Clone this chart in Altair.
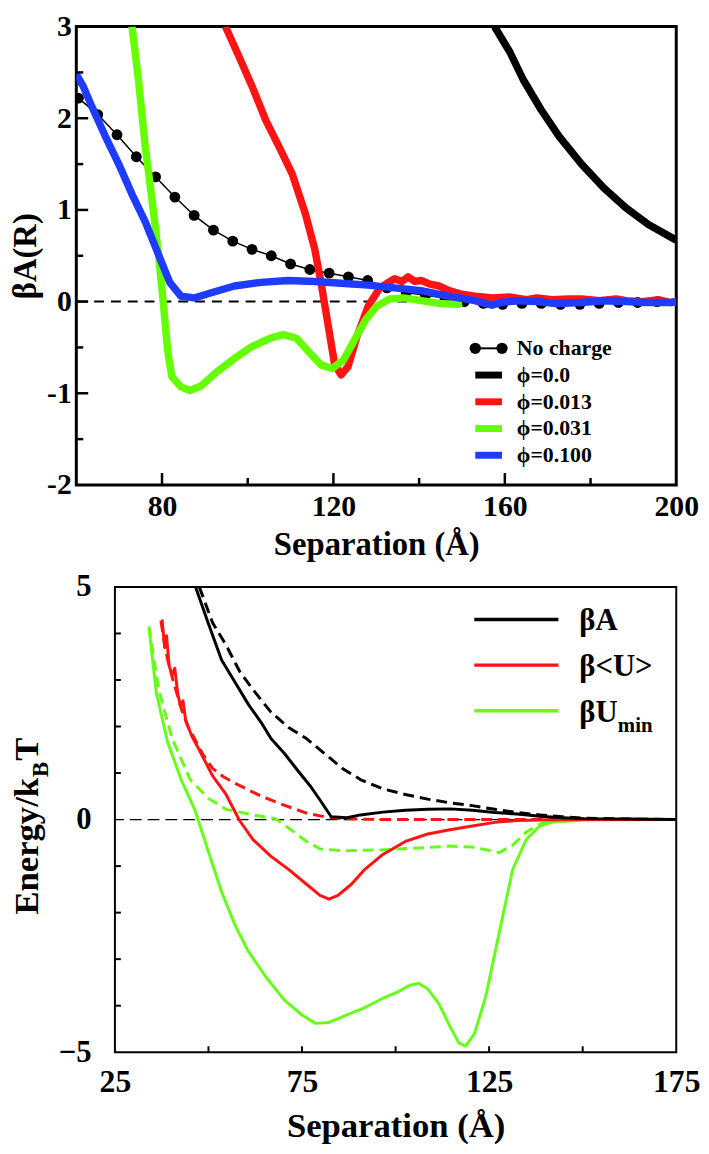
import altair as alt
import pandas as pd

FONT = "Liberation Serif"

# ---------------- top panel data ----------------
NC_X = [60.5, 65, 69.5, 74, 78.5, 83, 87.5, 92, 96.5, 101, 105.5, 110, 114.5, 119, 123.5,
        128, 132.5, 137, 141.5, 146, 150.5, 155, 159.5, 164, 168.5, 173, 177.5, 182,
        186.5, 191, 195.5]
NC_Y = [2.22, 2.04, 1.82, 1.58, 1.36, 1.14, 0.94, 0.78, 0.66, 0.57, 0.50, 0.41, 0.35, 0.31,
        0.27, 0.23, 0.15, 0.10, 0.07, 0.04, 0.00, -0.02, -0.03, -0.02, -0.02, -0.03, -0.03,
        -0.02, -0.01, -0.01, 0.0]

P0_X = [157.6, 161.2, 164.3, 168.5, 172.7, 177.9, 183.1, 188.3, 193.5, 200]
P0_Y = [3.0, 2.72, 2.42, 2.09, 1.80, 1.50, 1.24, 1.02, 0.84, 0.67]

P13_X = [94.8, 97.9, 101.0, 104.2, 107.3, 110.4, 113.5, 115.6, 117.1, 119.2, 120.3,
         121.8, 123.4, 125.5, 128.1, 130.7, 132.5, 134.3, 136.0, 137.4, 139.0, 140.5, 142.5,
         144.7, 147.0, 149.9, 153.0, 157.1, 161, 165, 167.5, 171, 175, 177.9, 182, 186,
         188.3, 192, 196, 198.7, 200]
P13_Y = [3.0, 2.68, 2.35, 1.98, 1.69, 1.39, 0.95, 0.58, 0.21, -0.38, -0.69, -0.80, -0.71,
         -0.38, -0.05, 0.14, 0.20, 0.25, 0.22, 0.27, 0.22, 0.23, 0.19, 0.17, 0.12, 0.08, 0.06,
         0.04, 0.05, 0.02, 0.04, 0.02, 0.03, 0.03, 0.01, 0.03, 0.01, 0.0, 0.02, -0.01, 0.0]

P31_X = [73.0, 74.5, 76.1, 77.7, 79.2, 80.3, 81.3, 82.3, 84.4, 86.5, 89.1, 92.7, 96.9,
         101.0, 105.2, 108.3, 111.4, 114.5, 117.1, 119.7, 122.3, 124.9, 127.5, 130.1, 133.2,
         136.4, 140.5, 144.7, 148.8, 150]
P31_Y = [3.0, 2.42, 1.69, 1.10, 0.51, -0.01, -0.53, -0.82, -0.93, -0.97, -0.92, -0.77,
         -0.62, -0.49, -0.40, -0.36, -0.40, -0.56, -0.69, -0.73, -0.64, -0.42, -0.20, -0.05,
         0.03, 0.04, 0.01, -0.02, -0.03, -0.02]

P100_X = [60.0, 61.6, 63.6, 66.8, 69.9, 73.0, 76.1, 79.2, 81.8, 84.4, 87.5, 91.7, 96.9, 103.1,
          109.4, 115.6, 121.8, 128.1, 134.3, 140.5, 146.8, 153.0, 157, 159.2, 163, 167.5, 172,
          177.9, 183, 188.3, 193, 198.7, 200]
P100_Y = [2.48, 2.35, 2.13, 1.80, 1.50, 1.17, 0.87, 0.51, 0.21, 0.06, 0.04, 0.10, 0.17, 0.21,
          0.23, 0.22, 0.20, 0.18, 0.15, 0.12, 0.06, 0.01, -0.04, -0.01, 0.01, 0.0, -0.02, -0.01,
          0.01, 0.0, -0.01, -0.01, 0.0]

TOP_X_LABELS = [80, 120, 160, 200]
TOP_X_MAJOR_TICKS = [80, 120, 160]
TOP_X_MINOR_TICKS = [100, 140, 180]
TOP_Y_LABELS = [-2, -1, 0, 1, 2, 3]
TOP_Y_MAJOR_TICKS = [-1, 0, 1, 2]
TOP_Y_MINOR_TICKS = [-1.5, -0.5, 0.5, 1.5, 2.5]

TOP_LEGEND = ["No charge", "ϕ=0.0", "ϕ=0.013", "ϕ=0.031", "ϕ=0.100"]
TOP_COLORS = ["black", "black", "#ff1414", "#66ff00", "#1e3cff"]

# ---------------- bottom panel data ----------------
BA_X = [46.55, 49.9, 53.5, 57.1, 60.7, 64.3, 66.7, 70.3, 73.8, 77.4, 79.8, 82.8, 87.0, 90.6,
        96.6, 102.6, 108.6, 114.5, 120.5, 126.5, 132.5, 138.5, 144.5, 150.5, 162.4, 175]
BA_Y = [5.0, 4.23, 3.43, 2.95, 2.47, 2.06, 1.74, 1.42, 1.06, 0.70, 0.42, 0.06, 0.04, 0.10,
        0.16, 0.20, 0.22, 0.23, 0.20, 0.15, 0.12, 0.07, 0.04, 0.02, 0.01, 0.0]

BAD_X = [47.55, 51.1, 54.7, 58.3, 61.9, 66.7, 71.4, 76.2, 81.0, 85.8, 90.6, 96.6, 102.6,
         108.6, 114.5, 120.5, 126.5, 132.5, 138.5, 144.5, 150.5, 162.4, 175]
BAD_Y = [5.0, 4.23, 3.75, 3.19, 2.79, 2.31, 1.98, 1.74, 1.42, 1.10, 0.86, 0.66, 0.54,
         0.44, 0.36, 0.30, 0.22, 0.15, 0.10, 0.06, 0.03, 0.01, 0.0]

BU_X = [37.6, 38.3, 38.8, 39.5, 40.3, 41.0, 41.8, 42.5, 43.2, 43.9, 45.5, 47.5, 51.1, 54.7, 58.3,
        61.9, 66.7, 71.4, 76.2, 79.8, 82.2, 84.6, 88.2, 91.8, 96.6, 102.6, 108.6, 114.5, 120.5,
        126.5, 132.5, 138.5, 150.5, 175]
BU_Y = [4.3, 3.7, 3.95, 3.3, 3.11, 3.25, 2.7, 2.45, 2.55, 2.14, 1.80, 1.50, 0.94, 0.54, -0.02,
        -0.43, -0.79, -1.07, -1.39, -1.63, -1.71, -1.63, -1.39, -1.07, -0.75, -0.47, -0.31,
        -0.22, -0.14, -0.06, -0.02, -0.01, 0.0, 0.0]

BUD_X = [37.3, 38.2, 39.1, 40.5, 42.7, 44.5, 46.3, 48.5, 51.1, 54.0, 57.1, 63.1, 69.1, 76.2,
         81.0, 85.8, 96.6, 114.5, 140, 175]
BUD_Y = [4.27, 3.8, 3.43, 3.0, 2.39, 2.0, 1.74, 1.40, 1.10, 0.92, 0.78, 0.54, 0.34, 0.14, 0.06,
         0.02, 0.0, 0.0, 0.0, 0.0]

BM_X = [34.1, 36.1, 39.1, 42.7, 46.3, 49.9, 53.5, 57.1, 60.7, 65.5, 70.3, 75.0, 78.6, 82.2,
        87.0, 91.8, 96.6, 100.2, 103.8, 106.2, 108.6, 111.6, 114.5, 116.9, 118.7, 121.1, 124.1,
        127.7, 131.3, 134.9, 138.5, 142.1, 150.5, 175]
BM_Y = [4.11, 2.71, 1.66, 0.86, 0.22, -0.67, -1.55, -2.27, -2.84, -3.40, -3.88, -4.20, -4.38,
        -4.36, -4.20, -4.04, -3.84, -3.72, -3.56, -3.52, -3.64, -3.96, -4.44, -4.80, -4.87,
        -4.60, -3.80, -2.43, -1.07, -0.43, -0.14, -0.05, -0.01, 0.0]

BMD_X = [34.1, 36.7, 40.3, 45.1, 49.9, 54.7, 61.9, 67.9, 71.4, 76.2, 79.8, 85.8, 96.6, 108.6,
         114.5, 120.5, 124.1, 127.7, 131.3, 134.9, 138.5, 142.1, 150.5, 175]
BMD_Y = [4.15, 2.79, 1.74, 0.86, 0.46, 0.22, 0.10, 0.02, -0.18, -0.47, -0.63, -0.67, -0.65,
         -0.60, -0.57, -0.59, -0.65, -0.71, -0.55, -0.27, -0.10, -0.02, 0.0, 0.0]

BOT_X_LABELS = [25, 75, 125, 175]
BOT_X_TICKS = [50, 75, 100, 125, 150]
BOT_Y_LABELS = [-5, 0, 5]
BOT_Y_TICKS = [-4, -3, -2, -1, 1, 2, 3, 4]

BOT_LEGEND = ["βA", "β<U>", "βU"]
BOT_COLORS = ["black", "#ff1414", "#66ff1a"]

# ---------------- sizes ----------------
TW, TH = 606, 463
BW, BH = 567, 470
SHIFT = 39   # bottom plot starts further right than the top plot


def df(xs, ys):
    return pd.DataFrame({"x": xs, "y": ys})


one = pd.DataFrame({"k": [0]})

# ---------------- top panel ----------------
xs_t = alt.Scale(domain=[60, 200], nice=False, zero=False)
ys_t = alt.Scale(domain=[-2, 3], nice=False, zero=False)
ax_xt = alt.Axis(values=TOP_X_LABELS, title="Separation (Å)", grid=False, domain=False,
                 ticks=False, labelFont=FONT, labelFontSize=30, labelFontWeight="bold",
                 labelColor="black", labelPadding=7, labelFlush=False,
                 titleFont=FONT, titleFontSize=33, titleFontWeight="bold",
                 titleColor="black", titlePadding=7)
ax_yt = alt.Axis(values=TOP_Y_LABELS, title="βA(R)", grid=False, domain=False, ticks=False,
                 labelExpr="'' + datum.value", labelFont=FONT, labelFontSize=30,
                 labelFontWeight="bold", labelColor="black", labelPadding=5,
                 labelFlush=False, titleFont=FONT, titleFontSize=33, titleFontWeight="bold",
                 titleColor="black", titlePadding=4)


def XT(f="x"):
    return alt.X(f"{f}:Q", scale=xs_t, axis=ax_xt)


def YT(f="y"):
    return alt.Y(f"{f}:Q", scale=ys_t, axis=ax_yt)


def thick(xs, ys, color):
    return alt.Chart(df(xs, ys)).mark_line(color=color, strokeWidth=7.5, clip=True,
                                          strokeJoin="round").encode(x=XT(), y=YT())


top_layers = []
top_layers.append(alt.Chart(pd.DataFrame({"y": [0]})).mark_rule(
    color="black", strokeWidth=2, strokeDash=[10, 7]).encode(y=YT()))
top_layers.append(alt.Chart(df(NC_X, NC_Y)).mark_line(color="black", strokeWidth=1.5,
                                                      clip=True).encode(x=XT(), y=YT()))
top_layers.append(alt.Chart(df(NC_X, NC_Y)).mark_circle(color="black", size=120, opacity=1,
                                                        clip=True).encode(x=XT(), y=YT()))
top_layers.append(thick(P0_X, P0_Y, TOP_COLORS[1]))
top_layers.append(thick(P13_X, P13_Y, TOP_COLORS[2]))
top_layers.append(thick(P31_X, P31_Y, TOP_COLORS[3]))
top_layers.append(thick(P100_X, P100_Y, TOP_COLORS[4]))
# inward ticks
top_layers.append(alt.Chart(pd.DataFrame({"v": TOP_X_MAJOR_TICKS})).mark_rule(
    color="black", strokeWidth=2.5).encode(x=XT("v"), y=alt.value(TH), y2=alt.value(TH - 12)))
top_layers.append(alt.Chart(pd.DataFrame({"v": TOP_X_MINOR_TICKS})).mark_rule(
    color="black", strokeWidth=2.5).encode(x=XT("v"), y=alt.value(TH), y2=alt.value(TH - 7)))
top_layers.append(alt.Chart(pd.DataFrame({"v": TOP_Y_MAJOR_TICKS})).mark_rule(
    color="black", strokeWidth=2.5).encode(y=YT("v"), x=alt.value(0), x2=alt.value(12)))
top_layers.append(alt.Chart(pd.DataFrame({"v": TOP_Y_MINOR_TICKS})).mark_rule(
    color="black", strokeWidth=2.5).encode(y=YT("v"), x=alt.value(0), x2=alt.value(7)))

# legend (top)
LX0, LX1, LTX, LY0, LDY = 403, 430, 445, 325, 27
for i, (lab, col) in enumerate(zip(TOP_LEGEND, TOP_COLORS)):
    yy = LY0 + i * LDY
    if i == 0:
        top_layers.append(alt.Chart(one).mark_rule(color=col, strokeWidth=2).encode(
            x=alt.value(LX0), x2=alt.value(LX1), y=alt.value(yy)))
        for xx in (LX0, LX1):
            top_layers.append(alt.Chart(one).mark_circle(color=col, size=130, opacity=1).encode(
                x=alt.value(xx), y=alt.value(yy)))
    else:
        top_layers.append(alt.Chart(one).mark_rule(color=col, strokeWidth=7).encode(
            x=alt.value(LX0), x2=alt.value(LX1), y=alt.value(yy)))
    top_layers.append(alt.Chart(one).mark_text(
        font=FONT, fontSize=22, fontWeight="bold", align="left", baseline="middle",
        color="black").encode(x=alt.value(LTX), y=alt.value(yy), text=alt.value(lab)))

top = alt.layer(*top_layers).properties(
    width=TW, height=TH, view=alt.ViewBackground(stroke="black", strokeWidth=3))

# ---------------- bottom panel ----------------
xs_b = alt.Scale(domain=[25, 175], nice=False, zero=False)
ys_b = alt.Scale(domain=[-5, 5], nice=False, zero=False)
ax_xb = alt.Axis(values=BOT_X_LABELS, title="Separation (Å)", grid=False, domain=False,
                 ticks=False, labelFont=FONT, labelFontSize=32, labelFontWeight="bold",
                 labelColor="black", labelPadding=15, labelFlush=False,
                 titleFont=FONT, titleFontSize=35, titleFontWeight="bold",
                 titleColor="black", titlePadding=11)
ax_yb = alt.Axis(values=BOT_Y_LABELS, title=None, grid=False, domain=False, ticks=False,
                 labelFont=FONT, labelFontSize=31, labelFontWeight="bold", labelColor="black",
                 labelPadding=24, labelFlush=False)


def XB(f="x"):
    return alt.X(f"{f}:Q", scale=xs_b, axis=ax_xb)


def YB(f="y"):
    return alt.Y(f"{f}:Q", scale=ys_b, axis=ax_yb)


def bl(xs, ys, color, dash=None):
    kw = dict(color=color, strokeWidth=3, clip=True, strokeJoin="round")
    if dash:
        kw["strokeDash"] = dash
    return alt.Chart(df(xs, ys)).mark_line(**kw).encode(x=XB(), y=YB())


bot_layers = []
bot_layers.append(alt.Chart(pd.DataFrame({"y": [0]})).mark_rule(
    color="black", strokeWidth=1.2, strokeDash=[12, 6]).encode(y=YB()))
bot_layers.append(bl(BMD_X, BMD_Y, BOT_COLORS[2], [11, 6]))
bot_layers.append(bl(BUD_X, BUD_Y, BOT_COLORS[1], [11, 6]))
bot_layers.append(bl(BAD_X, BAD_Y, BOT_COLORS[0], [11, 6]))
bot_layers.append(bl(BM_X, BM_Y, BOT_COLORS[2]))
bot_layers.append(bl(BU_X, BU_Y, BOT_COLORS[1]))
bot_layers.append(bl(BA_X, BA_Y, BOT_COLORS[0]))
bot_layers.append(alt.Chart(pd.DataFrame({"v": BOT_X_TICKS})).mark_rule(
    color="black", strokeWidth=2).encode(x=XB("v"), y=alt.value(BH), y2=alt.value(BH - 6)))
bot_layers.append(alt.Chart(pd.DataFrame({"v": BOT_Y_TICKS})).mark_rule(
    color="black", strokeWidth=2).encode(y=YB("v"), x=alt.value(0), x2=alt.value(6)))

# legend (bottom)
BX0, BX1, BTX, BY0, BDY = 363, 448, 469, 33, 46
for i, (lab, col) in enumerate(zip(BOT_LEGEND, BOT_COLORS)):
    yy = BY0 + i * BDY
    bot_layers.append(alt.Chart(one).mark_rule(color=col, strokeWidth=3.5).encode(
        x=alt.value(BX0), x2=alt.value(BX1), y=alt.value(yy)))
    bot_layers.append(alt.Chart(one).mark_text(
        font=FONT, fontSize=31, fontWeight="bold", align="left", baseline="alphabetic",
        color="black").encode(x=alt.value(BTX), y=alt.value(yy + 11), text=alt.value(lab)))
bot_layers.append(alt.Chart(one).mark_text(
    font=FONT, fontSize=21, fontWeight="bold", align="left", baseline="alphabetic",
    color="black").encode(x=alt.value(BTX + 39), y=alt.value(BY0 + 2 * BDY + 22),
                          text=alt.value("min")))

# y title with subscript (rotated pieces)
TITLE_PIECES = [("Energy/k", 35, 0), ("B", 23, 10), ("T", 35, 0)]
WIDTH_EM = {"Energy/k": 3.945, "B": 0.667, "T": 0.667}
ty = 331
tx = -78
for txt, fs, dx in TITLE_PIECES:
    bot_layers.append(alt.Chart(one).mark_text(
        font=FONT, fontSize=fs, fontWeight="bold", align="left", baseline="alphabetic",
        angle=270, color="black").encode(x=alt.value(tx + dx), y=alt.value(ty),
                                         text=alt.value(txt)))
    ty -= WIDTH_EM[txt] * fs + 1

bottom = alt.layer(*bot_layers).properties(
    width=BW, height=BH, view=alt.ViewBackground(stroke="black", strokeWidth=2))

spacer = alt.Chart(one).mark_point(opacity=0).encode(
    x=alt.value(0), y=alt.value(0)).properties(
    width=SHIFT, height=BH, view=alt.ViewBackground(stroke="transparent"))

bottom_row = alt.hconcat(spacer, bottom, spacing=0, bounds="flush")

chart = alt.vconcat(top, bottom_row, spacing=7).properties(
    padding={"left": 0, "top": -4, "right": 0, "bottom": 0}
).configure(background="white").configure_view(stroke="black")

chart.save("out.html", embed_options={"renderer": "svg", "actions": False})
